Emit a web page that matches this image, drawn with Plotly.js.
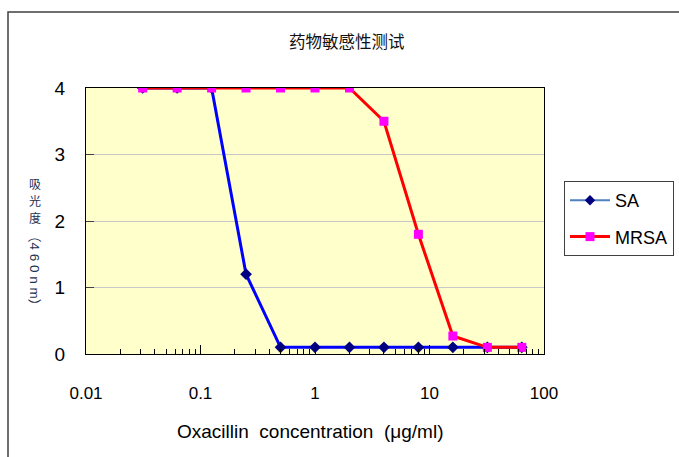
<!DOCTYPE html>
<html><head><meta charset="utf-8">
<script src="https://cdn.plot.ly/plotly-3.0.1.min.js"></script>
<style>html,body{margin:0;padding:0;background:#fff}#c{width:679px;height:457px}</style>
</head><body><div id="c"></div>
<script>
const conc = [0.03125, 0.0625, 0.125, 0.25, 0.5, 1, 2, 4, 8, 16, 32, 64];
const saValues = [4, 4, 4, 1.2, 0.1, 0.1, 0.1, 0.1, 0.1, 0.1, 0.1, 0.1];
const mrsaValues = [4, 4, 4, 4, 4, 4, 4, 3.5, 1.8, 0.27, 0.1, 0.1];
const xTickVals = [0.01, 0.1, 1, 10, 100];
const xTickText = ['0.01', '0.1', '1', '10', '100'];
const yTickVals = [0, 1, 2, 3, 4];
const seriesNames = ['SA', 'MRSA'];

const minorVals = [];
[0.01, 0.1, 1, 10].forEach(d => { for (let k = 2; k <= 9; k++) minorVals.push(+(d * k).toPrecision(3)); });

const L = 86, R = 544, T = 88, B = 354, W = 679, H = 457;
const px = x => (x - L) / (R - L);
const py = y => (B - y) / (B - T);

const traces = [
  {x: conc, y: saValues, name: seriesNames[0], mode: 'lines+markers', showlegend: false,
   line: {color: '#0000FF', width: 3}, marker: {symbol: 'diamond', size: 9, color: '#000080'}},
  {x: conc, y: mrsaValues, name: seriesNames[1], mode: 'lines+markers', showlegend: false,
   line: {color: '#FF0000', width: 3}, marker: {symbol: 'square', size: 9, color: '#FF00FF'}},
  {x: [null], y: [null], name: seriesNames[0], mode: 'lines+markers', legendgroup: 'a',
   line: {color: '#4F81BD', width: 2}, marker: {symbol: 'diamond', size: 8, color: '#000080'}},
  {x: [null], y: [null], name: seriesNames[1], mode: 'lines+markers', legendgroup: 'b',
   line: {color: '#FF0000', width: 3}, marker: {symbol: 'square', size: 9, color: '#FF00FF'}}
];

const font = {family: 'Liberation Sans, Arial, sans-serif', size: 16, color: '#000'};
const C = {xanchor: 'center', yanchor: 'middle', showarrow: false, xref: 'paper', yref: 'paper'};
const yTitleFont = {family: 'Noto Sans CJK SC', size: 12, color: '#1F3050'};
const layout = {
  width: W, height: H,
  margin: {l: L, r: W - R, t: T, b: H - B, pad: 0, autoexpand: false},
  paper_bgcolor: '#FFFFFF', plot_bgcolor: '#FFFFCC',
  font: font,
  showlegend: true,
  legend: {x: px(564), y: py(181), xanchor: 'left', yanchor: 'top',
    bordercolor: '#404040', borderwidth: 1, bgcolor: '#FFFFFF',
    font: {family: 'Liberation Sans, Arial, sans-serif', size: 18, color: '#000'},
    itemwidth: 40, tracegroupgap: 10, entrywidth: 105, entrywidthmode: 'pixels'},
  xaxis: {type: 'log', range: [-2, 2], tickvals: xTickVals, ticktext: xTickText,
    ticks: 'inside', ticklen: 9, tickcolor: '#000', tickwidth: 1,
    minor: {tickvals: minorVals, ticks: 'inside', ticklen: 5, tickcolor: '#000', showgrid: false},
    showgrid: false, zeroline: false, showline: true, mirror: true, linecolor: '#000', linewidth: 1,
    ticklabelstandoff: 24, tickfont: {size: 17}},
  yaxis: {range: [0, 4], tickvals: yTickVals, ticks: 'inside', ticklen: 8, tickcolor: '#404040',
    showgrid: true, gridcolor: '#C8C8C8', gridwidth: 1, zeroline: false,
    showline: true, mirror: true, linecolor: '#000', linewidth: 1,
    ticklabelstandoff: 16, tickfont: {size: 19, family: 'Liberation Sans Narrow, Liberation Sans, Arial'}},
  shapes: [
    {type: 'rect', xref: 'paper', yref: 'paper', x0: px(8), x1: px(700), y0: py(470), y1: py(12),
     line: {color: '#404040', width: 1.5}, fillcolor: 'rgba(0,0,0,0)', layer: 'below'}
  ],
  annotations: [
    Object.assign({text: '药物敏感性测试', x: px(347), y: py(41),
     font: {family: 'Noto Sans CJK SC', size: 16.5, color: '#111'}}, C),
    Object.assign({text: '吸', x: px(35), y: py(183), font: yTitleFont}, C),
    Object.assign({text: '光', x: px(35), y: py(200), font: yTitleFont}, C),
    Object.assign({text: '度', x: px(35), y: py(217), font: yTitleFont}, C),
    Object.assign({text: '（4 6 0 n m）', x: px(35), y: py(270), textangle: 90,
     font: {family: 'Liberation Sans, Noto Sans CJK SC', size: 13.5, color: '#1F3050'}}, C),
    Object.assign({text: 'Oxacillin&nbsp; concentration&nbsp; (μg/ml)', x: px(310), y: py(431),
     font: {family: 'Liberation Sans, Arial', size: 19, color: '#000'}}, C)
  ]
};
Plotly.newPlot('c', traces, layout, {displayModeBar: false, staticPlot: true});
</script></body></html>
